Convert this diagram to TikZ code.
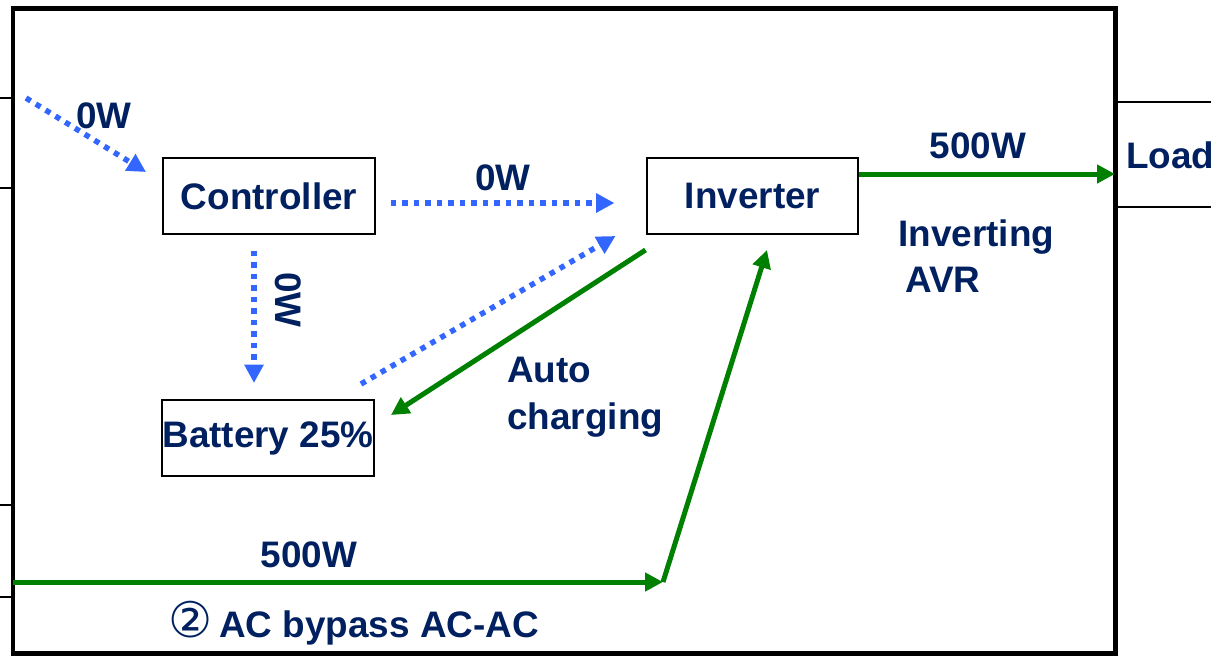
\documentclass[tikz,border=0pt]{standalone}
\usepackage{fontspec}
\setmainfont{Liberation Sans}
\newfontfamily\symbfont{DejaVu Sans}
\usepackage{tikz}
\usetikzlibrary{arrows.meta,positioning}
\definecolor{navy}{RGB}{0,32,96}
\definecolor{flowblue}{RGB}{51,102,255}
\definecolor{flowgreen}{RGB}{0,128,0}

\begin{document}
\begin{tikzpicture}[
      x=0.02cm, y=-0.02cm,
      font=\fontsize{21}{26.5}\selectfont\bfseries, text=navy,
      unit/.style={
          rectangle, draw=black, fill=white,
          line width=0.04cm,
          minimum width=4.24cm, minimum height=1.52cm,
          inner sep=0pt
      },
      tag/.style={inner sep=0pt},
      idleflow/.style={draw=flowblue, line width=0.11cm,
          dash pattern=on 0.11cm off 0.12cm,
          -{Triangle[length=0.37cm,width=0.37cm]}},
      powerflow/.style={draw=flowgreen, line width=0.1cm,
          -{Triangle[length=0.36cm,width=0.36cm]}},
      port/.style={draw=black, line width=0.035cm},
      frame/.style={draw=black, line width=0.1cm}
  ]

  \useasboundingbox (0,0) rectangle (1211,656);

  % cabinet and terminals
  \draw[frame] (13,8) rectangle (1115,653);
  \draw[port] (0,98) -- (13,98);
  \draw[port] (0,188) -- (13,188);
  \draw[port] (0,505) -- (13,505);
  \draw[port] (0,597) -- (13,597);
  \draw[port] (1115,102) -- (1211,102);
  \draw[port] (1115,207) -- (1211,207);

  % units
  \node[unit] (ctrl) at (269,196) {Controller};
  \node[unit] (inv)  at (752.5,196) {Inverter};
  \node[unit] (batt) at (268,438) {Battery 25\%};

  \coordinate (pv) at (26,98);
  \coordinate (acin) at (13,582);
  \coordinate (bend) at (663,582);
  \coordinate (loadport) at (1115,174);

  % idle paths
  \draw[idleflow] (pv) -- ([shift={(-16,15)}]ctrl.north west);
  \draw[idleflow] ([shift={(15,7)}]ctrl.east) -- ([shift={(-31,7)}]inv.west);
  \draw[idleflow] ([shift={(-15,16)}]ctrl.south) -- ([shift={(-14,-16)}]batt.north);
  \draw[idleflow] ([shift={(-14,-15)}]batt.north east) -- ([shift={(-30,1)}]inv.south west);

  % power paths
  \draw[powerflow] ([shift={(0,15)}]inv.south west) -- ([shift={(16,-23)}]batt.east);
  \draw[powerflow] (acin) -- (bend);
  \draw[powerflow] (bend) -- ([shift={(14.5,15)}]inv.south);
  \draw[powerflow] ([shift={(0,-22)}]inv.east) -- (loadport);

  % labels
  \node[tag, anchor=base] (pvw) at (104,128) {0W};
  \node[tag, anchor=base] (ctrlw) at (503,190) {0W};
  \node[tag, rotate=-90] (battw) at (288,300) {0W};
  \node[tag, anchor=base] (loadw) at (978,158) {500W};
  \node[tag, anchor=west, align=left] (avr) at (898,256) {Inverting\\\hspace{0.14cm}AVR};
  \node[tag, anchor=west, align=left] (chg) at (507,397) {Auto\\charging};
  \node[tag, anchor=base] (acw) at (309,567) {500W};
  \node[tag, anchor=base] (mode) at (354,637)
      {{\symbfont\mdseries\fontsize{28}{30}\selectfont ②}\,AC bypass AC-AC};
  \node[tag, anchor=base west] (loadtxt) at (1126,168) {Load};
\end{tikzpicture}
\end{document}
